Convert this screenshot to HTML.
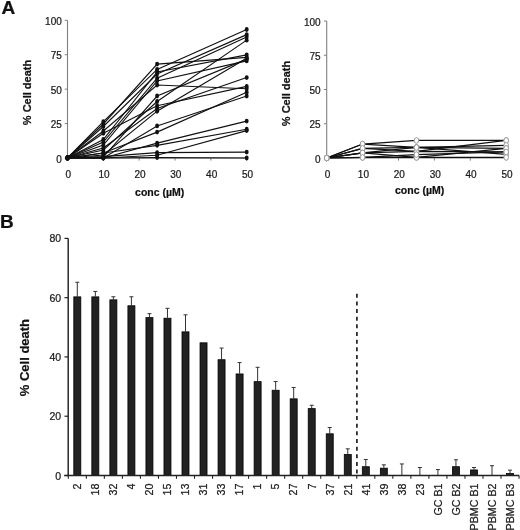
<!DOCTYPE html>
<html><head><meta charset="utf-8"><style>
html,body{margin:0;padding:0;background:#fff;}
text{stroke:#111;stroke-width:0.22px;}
svg{display:block;font-family:"Liberation Sans", sans-serif;will-change:transform;filter:blur(0.3px);}
</style></head><body>
<svg width="520" height="530" viewBox="0 0 520 530">
<rect width="520" height="530" fill="#fff"/>
<text x="1.5" y="14.1" font-size="19" font-weight="bold" fill="#111">A</text>
<line x1="67.5" y1="20.30000000000001" x2="67.5" y2="158.0" stroke="#808080" stroke-width="1.1"/>
<line x1="67.5" y1="158.0" x2="246.70000000000002" y2="158.0" stroke="#808080" stroke-width="1.1"/>
<line x1="64.7" y1="158.00" x2="67.5" y2="158.00" stroke="#808080" stroke-width="1"/>
<text x="61.8" y="162.60" text-anchor="end" font-size="10" fill="#222">0</text>
<line x1="64.7" y1="123.58" x2="67.5" y2="123.58" stroke="#808080" stroke-width="1"/>
<text x="61.8" y="128.18" text-anchor="end" font-size="10" fill="#222">25</text>
<line x1="64.7" y1="89.15" x2="67.5" y2="89.15" stroke="#808080" stroke-width="1"/>
<text x="61.8" y="93.75" text-anchor="end" font-size="10" fill="#222">50</text>
<line x1="64.7" y1="54.72" x2="67.5" y2="54.72" stroke="#808080" stroke-width="1"/>
<text x="61.8" y="59.32" text-anchor="end" font-size="10" fill="#222">75</text>
<line x1="64.7" y1="20.30" x2="67.5" y2="20.30" stroke="#808080" stroke-width="1"/>
<text x="61.8" y="24.90" text-anchor="end" font-size="10" fill="#222">100</text>
<text x="68.30" y="177.6" text-anchor="middle" font-size="10" fill="#222">0</text>
<line x1="103.34" y1="158.0" x2="103.34" y2="160.6" stroke="#808080" stroke-width="1"/>
<text x="104.14" y="177.6" text-anchor="middle" font-size="10" fill="#222">10</text>
<line x1="139.18" y1="158.0" x2="139.18" y2="160.6" stroke="#808080" stroke-width="1"/>
<text x="139.98" y="177.6" text-anchor="middle" font-size="10" fill="#222">20</text>
<line x1="175.02" y1="158.0" x2="175.02" y2="160.6" stroke="#808080" stroke-width="1"/>
<text x="175.82" y="177.6" text-anchor="middle" font-size="10" fill="#222">30</text>
<line x1="210.86" y1="158.0" x2="210.86" y2="160.6" stroke="#808080" stroke-width="1"/>
<text x="211.66" y="177.6" text-anchor="middle" font-size="10" fill="#222">40</text>
<line x1="246.70" y1="158.0" x2="246.70" y2="160.6" stroke="#808080" stroke-width="1"/>
<text x="247.50" y="177.6" text-anchor="middle" font-size="10" fill="#222">50</text>
<polyline points="67.50,158.00 103.34,123.99 157.10,64.09 246.70,57.34" fill="none" stroke="#111" stroke-width="1.12"/>
<polyline points="67.50,158.00 103.34,121.65 157.10,69.46 246.70,29.53" fill="none" stroke="#111" stroke-width="1.12"/>
<polyline points="67.50,158.00 103.34,139.55 157.10,71.94 246.70,54.86" fill="none" stroke="#111" stroke-width="1.12"/>
<polyline points="67.50,158.00 103.34,126.47 157.10,74.00 246.70,34.62" fill="none" stroke="#111" stroke-width="1.12"/>
<polyline points="67.50,158.00 103.34,142.03 157.10,78.13 246.70,37.10" fill="none" stroke="#111" stroke-width="1.12"/>
<polyline points="67.50,158.00 103.34,145.06 157.10,80.89 246.70,60.92" fill="none" stroke="#111" stroke-width="1.12"/>
<polyline points="67.50,158.00 103.34,131.01 157.10,85.02 246.70,88.74" fill="none" stroke="#111" stroke-width="1.12"/>
<polyline points="67.50,158.00 103.34,157.04 157.10,96.03 246.70,59.13" fill="none" stroke="#111" stroke-width="1.12"/>
<polyline points="67.50,158.00 103.34,150.01 157.10,101.54 246.70,40.13" fill="none" stroke="#111" stroke-width="1.12"/>
<polyline points="67.50,158.00 103.34,133.21 157.10,105.67 246.70,86.40" fill="none" stroke="#111" stroke-width="1.12"/>
<polyline points="67.50,158.00 103.34,147.95 157.10,108.43 246.70,77.58" fill="none" stroke="#111" stroke-width="1.12"/>
<polyline points="67.50,158.00 103.34,154.97 157.10,111.18 246.70,58.17" fill="none" stroke="#111" stroke-width="1.12"/>
<polyline points="67.50,158.00 103.34,158.00 157.10,125.92 246.70,96.03" fill="none" stroke="#111" stroke-width="1.12"/>
<polyline points="67.50,158.00 103.34,153.04 157.10,132.11 246.70,92.32" fill="none" stroke="#111" stroke-width="1.12"/>
<polyline points="67.50,158.00 103.34,158.00 157.10,143.13 246.70,121.10" fill="none" stroke="#111" stroke-width="1.12"/>
<polyline points="67.50,158.00 103.34,153.04 157.10,145.33 246.70,129.22" fill="none" stroke="#111" stroke-width="1.12"/>
<polyline points="67.50,158.00 103.34,158.00 157.10,155.25 246.70,130.60" fill="none" stroke="#111" stroke-width="1.12"/>
<polyline points="67.50,158.00 103.34,156.62 157.10,152.63 246.70,152.08" fill="none" stroke="#111" stroke-width="1.12"/>
<polyline points="67.50,158.00 103.34,158.00 157.10,157.59 246.70,158.00" fill="none" stroke="#111" stroke-width="1.12"/>
<ellipse cx="67.50" cy="158.00" rx="1.95" ry="2.45" fill="#111"/>
<ellipse cx="103.34" cy="123.99" rx="1.95" ry="2.45" fill="#111"/>
<ellipse cx="157.10" cy="64.09" rx="1.95" ry="2.45" fill="#111"/>
<ellipse cx="246.70" cy="57.34" rx="1.95" ry="2.45" fill="#111"/>
<ellipse cx="67.50" cy="158.00" rx="1.95" ry="2.45" fill="#111"/>
<ellipse cx="103.34" cy="121.65" rx="1.95" ry="2.45" fill="#111"/>
<ellipse cx="157.10" cy="69.46" rx="1.95" ry="2.45" fill="#111"/>
<ellipse cx="246.70" cy="29.53" rx="1.95" ry="2.45" fill="#111"/>
<ellipse cx="67.50" cy="158.00" rx="1.95" ry="2.45" fill="#111"/>
<ellipse cx="103.34" cy="139.55" rx="1.95" ry="2.45" fill="#111"/>
<ellipse cx="157.10" cy="71.94" rx="1.95" ry="2.45" fill="#111"/>
<ellipse cx="246.70" cy="54.86" rx="1.95" ry="2.45" fill="#111"/>
<ellipse cx="67.50" cy="158.00" rx="1.95" ry="2.45" fill="#111"/>
<ellipse cx="103.34" cy="126.47" rx="1.95" ry="2.45" fill="#111"/>
<ellipse cx="157.10" cy="74.00" rx="1.95" ry="2.45" fill="#111"/>
<ellipse cx="246.70" cy="34.62" rx="1.95" ry="2.45" fill="#111"/>
<ellipse cx="67.50" cy="158.00" rx="1.95" ry="2.45" fill="#111"/>
<ellipse cx="103.34" cy="142.03" rx="1.95" ry="2.45" fill="#111"/>
<ellipse cx="157.10" cy="78.13" rx="1.95" ry="2.45" fill="#111"/>
<ellipse cx="246.70" cy="37.10" rx="1.95" ry="2.45" fill="#111"/>
<ellipse cx="67.50" cy="158.00" rx="1.95" ry="2.45" fill="#111"/>
<ellipse cx="103.34" cy="145.06" rx="1.95" ry="2.45" fill="#111"/>
<ellipse cx="157.10" cy="80.89" rx="1.95" ry="2.45" fill="#111"/>
<ellipse cx="246.70" cy="60.92" rx="1.95" ry="2.45" fill="#111"/>
<ellipse cx="67.50" cy="158.00" rx="1.95" ry="2.45" fill="#111"/>
<ellipse cx="103.34" cy="131.01" rx="1.95" ry="2.45" fill="#111"/>
<ellipse cx="157.10" cy="85.02" rx="1.95" ry="2.45" fill="#111"/>
<ellipse cx="246.70" cy="88.74" rx="1.95" ry="2.45" fill="#111"/>
<ellipse cx="67.50" cy="158.00" rx="1.95" ry="2.45" fill="#111"/>
<ellipse cx="103.34" cy="157.04" rx="1.95" ry="2.45" fill="#111"/>
<ellipse cx="157.10" cy="96.03" rx="1.95" ry="2.45" fill="#111"/>
<ellipse cx="246.70" cy="59.13" rx="1.95" ry="2.45" fill="#111"/>
<ellipse cx="67.50" cy="158.00" rx="1.95" ry="2.45" fill="#111"/>
<ellipse cx="103.34" cy="150.01" rx="1.95" ry="2.45" fill="#111"/>
<ellipse cx="157.10" cy="101.54" rx="1.95" ry="2.45" fill="#111"/>
<ellipse cx="246.70" cy="40.13" rx="1.95" ry="2.45" fill="#111"/>
<ellipse cx="67.50" cy="158.00" rx="1.95" ry="2.45" fill="#111"/>
<ellipse cx="103.34" cy="133.21" rx="1.95" ry="2.45" fill="#111"/>
<ellipse cx="157.10" cy="105.67" rx="1.95" ry="2.45" fill="#111"/>
<ellipse cx="246.70" cy="86.40" rx="1.95" ry="2.45" fill="#111"/>
<ellipse cx="67.50" cy="158.00" rx="1.95" ry="2.45" fill="#111"/>
<ellipse cx="103.34" cy="147.95" rx="1.95" ry="2.45" fill="#111"/>
<ellipse cx="157.10" cy="108.43" rx="1.95" ry="2.45" fill="#111"/>
<ellipse cx="246.70" cy="77.58" rx="1.95" ry="2.45" fill="#111"/>
<ellipse cx="67.50" cy="158.00" rx="1.95" ry="2.45" fill="#111"/>
<ellipse cx="103.34" cy="154.97" rx="1.95" ry="2.45" fill="#111"/>
<ellipse cx="157.10" cy="111.18" rx="1.95" ry="2.45" fill="#111"/>
<ellipse cx="246.70" cy="58.17" rx="1.95" ry="2.45" fill="#111"/>
<ellipse cx="67.50" cy="158.00" rx="1.95" ry="2.45" fill="#111"/>
<ellipse cx="103.34" cy="158.00" rx="1.95" ry="2.45" fill="#111"/>
<ellipse cx="157.10" cy="125.92" rx="1.95" ry="2.45" fill="#111"/>
<ellipse cx="246.70" cy="96.03" rx="1.95" ry="2.45" fill="#111"/>
<ellipse cx="67.50" cy="158.00" rx="1.95" ry="2.45" fill="#111"/>
<ellipse cx="103.34" cy="153.04" rx="1.95" ry="2.45" fill="#111"/>
<ellipse cx="157.10" cy="132.11" rx="1.95" ry="2.45" fill="#111"/>
<ellipse cx="246.70" cy="92.32" rx="1.95" ry="2.45" fill="#111"/>
<ellipse cx="67.50" cy="158.00" rx="1.95" ry="2.45" fill="#111"/>
<ellipse cx="103.34" cy="158.00" rx="1.95" ry="2.45" fill="#111"/>
<ellipse cx="157.10" cy="143.13" rx="1.95" ry="2.45" fill="#111"/>
<ellipse cx="246.70" cy="121.10" rx="1.95" ry="2.45" fill="#111"/>
<ellipse cx="67.50" cy="158.00" rx="1.95" ry="2.45" fill="#111"/>
<ellipse cx="103.34" cy="153.04" rx="1.95" ry="2.45" fill="#111"/>
<ellipse cx="157.10" cy="145.33" rx="1.95" ry="2.45" fill="#111"/>
<ellipse cx="246.70" cy="129.22" rx="1.95" ry="2.45" fill="#111"/>
<ellipse cx="67.50" cy="158.00" rx="1.95" ry="2.45" fill="#111"/>
<ellipse cx="103.34" cy="158.00" rx="1.95" ry="2.45" fill="#111"/>
<ellipse cx="157.10" cy="155.25" rx="1.95" ry="2.45" fill="#111"/>
<ellipse cx="246.70" cy="130.60" rx="1.95" ry="2.45" fill="#111"/>
<ellipse cx="67.50" cy="158.00" rx="1.95" ry="2.45" fill="#111"/>
<ellipse cx="103.34" cy="156.62" rx="1.95" ry="2.45" fill="#111"/>
<ellipse cx="157.10" cy="152.63" rx="1.95" ry="2.45" fill="#111"/>
<ellipse cx="246.70" cy="152.08" rx="1.95" ry="2.45" fill="#111"/>
<ellipse cx="67.50" cy="158.00" rx="1.95" ry="2.45" fill="#111"/>
<ellipse cx="103.34" cy="158.00" rx="1.95" ry="2.45" fill="#111"/>
<ellipse cx="157.10" cy="157.59" rx="1.95" ry="2.45" fill="#111"/>
<ellipse cx="246.70" cy="158.00" rx="1.95" ry="2.45" fill="#111"/>
<text transform="translate(31,92.5) rotate(-90)" text-anchor="middle" font-size="11" font-weight="bold" fill="#111">% Cell death</text>
<text x="159.7" y="195.5" text-anchor="middle" font-size="10.5" font-weight="bold" fill="#111">conc (µM)</text>
<line x1="326.7" y1="21.0" x2="326.7" y2="158.0" stroke="#808080" stroke-width="1.1"/>
<line x1="326.7" y1="158.0" x2="506.2" y2="158.0" stroke="#808080" stroke-width="1.1"/>
<line x1="323.9" y1="158.00" x2="326.7" y2="158.00" stroke="#808080" stroke-width="1"/>
<text x="320.6" y="162.60" text-anchor="end" font-size="10" fill="#222">0</text>
<line x1="323.9" y1="123.75" x2="326.7" y2="123.75" stroke="#808080" stroke-width="1"/>
<text x="320.6" y="128.35" text-anchor="end" font-size="10" fill="#222">25</text>
<line x1="323.9" y1="89.50" x2="326.7" y2="89.50" stroke="#808080" stroke-width="1"/>
<text x="320.6" y="94.10" text-anchor="end" font-size="10" fill="#222">50</text>
<line x1="323.9" y1="55.25" x2="326.7" y2="55.25" stroke="#808080" stroke-width="1"/>
<text x="320.6" y="59.85" text-anchor="end" font-size="10" fill="#222">75</text>
<line x1="323.9" y1="21.00" x2="326.7" y2="21.00" stroke="#808080" stroke-width="1"/>
<text x="320.6" y="25.60" text-anchor="end" font-size="10" fill="#222">100</text>
<text x="327.50" y="177.6" text-anchor="middle" font-size="10" fill="#222">0</text>
<line x1="362.60" y1="158.0" x2="362.60" y2="160.6" stroke="#808080" stroke-width="1"/>
<text x="363.40" y="177.6" text-anchor="middle" font-size="10" fill="#222">10</text>
<line x1="398.50" y1="158.0" x2="398.50" y2="160.6" stroke="#808080" stroke-width="1"/>
<text x="399.30" y="177.6" text-anchor="middle" font-size="10" fill="#222">20</text>
<line x1="434.40" y1="158.0" x2="434.40" y2="160.6" stroke="#808080" stroke-width="1"/>
<text x="435.20" y="177.6" text-anchor="middle" font-size="10" fill="#222">30</text>
<line x1="470.30" y1="158.0" x2="470.30" y2="160.6" stroke="#808080" stroke-width="1"/>
<text x="471.10" y="177.6" text-anchor="middle" font-size="10" fill="#222">40</text>
<line x1="506.20" y1="158.0" x2="506.20" y2="160.6" stroke="#808080" stroke-width="1"/>
<text x="507.00" y="177.6" text-anchor="middle" font-size="10" fill="#222">50</text>
<polyline points="326.70,158.00 362.60,144.03 416.45,140.46 506.20,140.46" fill="none" stroke="#111" stroke-width="1.25"/>
<polyline points="326.70,158.00 362.60,148.41 416.45,151.42 506.20,140.46" fill="none" stroke="#111" stroke-width="1.25"/>
<polyline points="326.70,158.00 362.60,144.03 416.45,147.45 506.20,145.40" fill="none" stroke="#111" stroke-width="1.25"/>
<polyline points="326.70,158.00 362.60,148.41 416.45,147.45 506.20,148.41" fill="none" stroke="#111" stroke-width="1.25"/>
<polyline points="326.70,158.00 362.60,152.93 416.45,151.42 506.20,151.97" fill="none" stroke="#111" stroke-width="1.25"/>
<polyline points="326.70,158.00 362.60,152.93 416.45,147.45 506.20,154.44" fill="none" stroke="#111" stroke-width="1.25"/>
<polyline points="326.70,158.00 362.60,157.45 416.45,157.45 506.20,157.45" fill="none" stroke="#111" stroke-width="1.25"/>
<polyline points="326.70,158.00 362.60,152.93 416.45,157.45 506.20,148.41" fill="none" stroke="#111" stroke-width="1.25"/>
<polyline points="326.70,158.00 362.60,157.45 416.45,154.57 506.20,151.97" fill="none" stroke="#111" stroke-width="1.25"/>
<ellipse cx="326.70" cy="158.00" rx="2.3" ry="2.8" fill="#fff" stroke="#999" stroke-width="1"/>
<ellipse cx="362.60" cy="144.03" rx="2.3" ry="2.8" fill="#fff" stroke="#999" stroke-width="1"/>
<ellipse cx="416.45" cy="140.46" rx="2.3" ry="2.8" fill="#fff" stroke="#999" stroke-width="1"/>
<ellipse cx="506.20" cy="140.46" rx="2.3" ry="2.8" fill="#fff" stroke="#999" stroke-width="1"/>
<ellipse cx="326.70" cy="158.00" rx="2.3" ry="2.8" fill="#fff" stroke="#999" stroke-width="1"/>
<ellipse cx="362.60" cy="148.41" rx="2.3" ry="2.8" fill="#fff" stroke="#999" stroke-width="1"/>
<ellipse cx="416.45" cy="151.42" rx="2.3" ry="2.8" fill="#fff" stroke="#999" stroke-width="1"/>
<ellipse cx="506.20" cy="140.46" rx="2.3" ry="2.8" fill="#fff" stroke="#999" stroke-width="1"/>
<ellipse cx="326.70" cy="158.00" rx="2.3" ry="2.8" fill="#fff" stroke="#999" stroke-width="1"/>
<ellipse cx="362.60" cy="144.03" rx="2.3" ry="2.8" fill="#fff" stroke="#999" stroke-width="1"/>
<ellipse cx="416.45" cy="147.45" rx="2.3" ry="2.8" fill="#fff" stroke="#999" stroke-width="1"/>
<ellipse cx="506.20" cy="145.40" rx="2.3" ry="2.8" fill="#fff" stroke="#999" stroke-width="1"/>
<ellipse cx="326.70" cy="158.00" rx="2.3" ry="2.8" fill="#fff" stroke="#999" stroke-width="1"/>
<ellipse cx="362.60" cy="148.41" rx="2.3" ry="2.8" fill="#fff" stroke="#999" stroke-width="1"/>
<ellipse cx="416.45" cy="147.45" rx="2.3" ry="2.8" fill="#fff" stroke="#999" stroke-width="1"/>
<ellipse cx="506.20" cy="148.41" rx="2.3" ry="2.8" fill="#fff" stroke="#999" stroke-width="1"/>
<ellipse cx="326.70" cy="158.00" rx="2.3" ry="2.8" fill="#fff" stroke="#999" stroke-width="1"/>
<ellipse cx="362.60" cy="152.93" rx="2.3" ry="2.8" fill="#fff" stroke="#999" stroke-width="1"/>
<ellipse cx="416.45" cy="151.42" rx="2.3" ry="2.8" fill="#fff" stroke="#999" stroke-width="1"/>
<ellipse cx="506.20" cy="151.97" rx="2.3" ry="2.8" fill="#fff" stroke="#999" stroke-width="1"/>
<ellipse cx="326.70" cy="158.00" rx="2.3" ry="2.8" fill="#fff" stroke="#999" stroke-width="1"/>
<ellipse cx="362.60" cy="152.93" rx="2.3" ry="2.8" fill="#fff" stroke="#999" stroke-width="1"/>
<ellipse cx="416.45" cy="147.45" rx="2.3" ry="2.8" fill="#fff" stroke="#999" stroke-width="1"/>
<ellipse cx="506.20" cy="154.44" rx="2.3" ry="2.8" fill="#fff" stroke="#999" stroke-width="1"/>
<ellipse cx="326.70" cy="158.00" rx="2.3" ry="2.8" fill="#fff" stroke="#999" stroke-width="1"/>
<ellipse cx="362.60" cy="157.45" rx="2.3" ry="2.8" fill="#fff" stroke="#999" stroke-width="1"/>
<ellipse cx="416.45" cy="157.45" rx="2.3" ry="2.8" fill="#fff" stroke="#999" stroke-width="1"/>
<ellipse cx="506.20" cy="157.45" rx="2.3" ry="2.8" fill="#fff" stroke="#999" stroke-width="1"/>
<ellipse cx="326.70" cy="158.00" rx="2.3" ry="2.8" fill="#fff" stroke="#999" stroke-width="1"/>
<ellipse cx="362.60" cy="152.93" rx="2.3" ry="2.8" fill="#fff" stroke="#999" stroke-width="1"/>
<ellipse cx="416.45" cy="157.45" rx="2.3" ry="2.8" fill="#fff" stroke="#999" stroke-width="1"/>
<ellipse cx="506.20" cy="148.41" rx="2.3" ry="2.8" fill="#fff" stroke="#999" stroke-width="1"/>
<ellipse cx="326.70" cy="158.00" rx="2.3" ry="2.8" fill="#fff" stroke="#999" stroke-width="1"/>
<ellipse cx="362.60" cy="157.45" rx="2.3" ry="2.8" fill="#fff" stroke="#999" stroke-width="1"/>
<ellipse cx="416.45" cy="154.57" rx="2.3" ry="2.8" fill="#fff" stroke="#999" stroke-width="1"/>
<ellipse cx="506.20" cy="151.97" rx="2.3" ry="2.8" fill="#fff" stroke="#999" stroke-width="1"/>
<text transform="translate(289.7,93.5) rotate(-90)" text-anchor="middle" font-size="11" font-weight="bold" fill="#111">% Cell death</text>
<text x="419.6" y="194.4" text-anchor="middle" font-size="10.5" font-weight="bold" fill="#111">conc (µM)</text>
<text x="0" y="227.8" font-size="19" font-weight="bold" fill="#111">B</text>
<line x1="68.2" y1="238.38" x2="68.2" y2="475.5" stroke="#222" stroke-width="1.45"/>
<line x1="64.5" y1="475.50" x2="68.3" y2="475.50" stroke="#222" stroke-width="1.2"/>
<text x="61.2" y="479.60" text-anchor="end" font-size="10.5" fill="#222">0</text>
<line x1="64.5" y1="416.22" x2="68.3" y2="416.22" stroke="#222" stroke-width="1.2"/>
<text x="61.2" y="420.32" text-anchor="end" font-size="10.5" fill="#222">20</text>
<line x1="64.5" y1="356.94" x2="68.3" y2="356.94" stroke="#222" stroke-width="1.2"/>
<text x="61.2" y="361.04" text-anchor="end" font-size="10.5" fill="#222">40</text>
<line x1="64.5" y1="297.66" x2="68.3" y2="297.66" stroke="#222" stroke-width="1.2"/>
<text x="61.2" y="301.76" text-anchor="end" font-size="10.5" fill="#222">60</text>
<line x1="64.5" y1="238.38" x2="68.3" y2="238.38" stroke="#222" stroke-width="1.2"/>
<text x="61.2" y="242.48" text-anchor="end" font-size="10.5" fill="#222">80</text>
<line x1="77.31" y1="282.25" x2="77.31" y2="296.47" stroke="#333" stroke-width="1"/>
<line x1="75.31" y1="282.25" x2="79.31" y2="282.25" stroke="#333" stroke-width="1"/>
<rect x="73.81" y="296.87" width="7.00" height="178.63" fill="#222" stroke="#000" stroke-width="0.8"/>
<text transform="translate(81.11,483.5) rotate(-90)" text-anchor="end" font-size="10.7" fill="#222">2</text>
<line x1="95.34" y1="291.44" x2="95.34" y2="296.47" stroke="#333" stroke-width="1"/>
<line x1="93.34" y1="291.44" x2="97.34" y2="291.44" stroke="#333" stroke-width="1"/>
<rect x="91.84" y="296.87" width="7.00" height="178.63" fill="#222" stroke="#000" stroke-width="0.8"/>
<text transform="translate(99.14,483.5) rotate(-90)" text-anchor="end" font-size="10.7" fill="#222">18</text>
<line x1="113.38" y1="296.77" x2="113.38" y2="299.44" stroke="#333" stroke-width="1"/>
<line x1="111.38" y1="296.77" x2="115.38" y2="296.77" stroke="#333" stroke-width="1"/>
<rect x="109.88" y="299.84" width="7.00" height="175.66" fill="#222" stroke="#000" stroke-width="0.8"/>
<text transform="translate(117.17,483.5) rotate(-90)" text-anchor="end" font-size="10.7" fill="#222">32</text>
<line x1="131.41" y1="296.77" x2="131.41" y2="305.37" stroke="#333" stroke-width="1"/>
<line x1="129.41" y1="296.77" x2="133.41" y2="296.77" stroke="#333" stroke-width="1"/>
<rect x="127.91" y="305.77" width="7.00" height="169.73" fill="#222" stroke="#000" stroke-width="0.8"/>
<text transform="translate(135.21,483.5) rotate(-90)" text-anchor="end" font-size="10.7" fill="#222">4</text>
<line x1="149.44" y1="313.67" x2="149.44" y2="317.22" stroke="#333" stroke-width="1"/>
<line x1="147.44" y1="313.67" x2="151.44" y2="313.67" stroke="#333" stroke-width="1"/>
<rect x="145.94" y="317.62" width="7.00" height="157.88" fill="#222" stroke="#000" stroke-width="0.8"/>
<text transform="translate(153.24,483.5) rotate(-90)" text-anchor="end" font-size="10.7" fill="#222">20</text>
<line x1="167.47" y1="308.33" x2="167.47" y2="317.82" stroke="#333" stroke-width="1"/>
<line x1="165.47" y1="308.33" x2="169.47" y2="308.33" stroke="#333" stroke-width="1"/>
<rect x="163.97" y="318.22" width="7.00" height="157.28" fill="#222" stroke="#000" stroke-width="0.8"/>
<text transform="translate(171.27,483.5) rotate(-90)" text-anchor="end" font-size="10.7" fill="#222">15</text>
<line x1="185.50" y1="314.85" x2="185.50" y2="331.45" stroke="#333" stroke-width="1"/>
<line x1="183.50" y1="314.85" x2="187.50" y2="314.85" stroke="#333" stroke-width="1"/>
<rect x="182.00" y="331.85" width="7.00" height="143.65" fill="#222" stroke="#000" stroke-width="0.8"/>
<text transform="translate(189.30,483.5) rotate(-90)" text-anchor="end" font-size="10.7" fill="#222">13</text>
<rect x="200.03" y="342.82" width="7.00" height="132.68" fill="#222" stroke="#000" stroke-width="0.8"/>
<text transform="translate(207.33,483.5) rotate(-90)" text-anchor="end" font-size="10.7" fill="#222">31</text>
<line x1="221.56" y1="348.05" x2="221.56" y2="359.31" stroke="#333" stroke-width="1"/>
<line x1="219.56" y1="348.05" x2="223.56" y2="348.05" stroke="#333" stroke-width="1"/>
<rect x="218.06" y="359.71" width="7.00" height="115.79" fill="#222" stroke="#000" stroke-width="0.8"/>
<text transform="translate(225.36,483.5) rotate(-90)" text-anchor="end" font-size="10.7" fill="#222">33</text>
<line x1="239.59" y1="362.57" x2="239.59" y2="373.54" stroke="#333" stroke-width="1"/>
<line x1="237.59" y1="362.57" x2="241.59" y2="362.57" stroke="#333" stroke-width="1"/>
<rect x="236.09" y="373.94" width="7.00" height="101.56" fill="#222" stroke="#000" stroke-width="0.8"/>
<text transform="translate(243.39,483.5) rotate(-90)" text-anchor="end" font-size="10.7" fill="#222">17</text>
<line x1="257.62" y1="367.31" x2="257.62" y2="381.24" stroke="#333" stroke-width="1"/>
<line x1="255.62" y1="367.31" x2="259.62" y2="367.31" stroke="#333" stroke-width="1"/>
<rect x="254.12" y="381.64" width="7.00" height="93.86" fill="#222" stroke="#000" stroke-width="0.8"/>
<text transform="translate(261.42,483.5) rotate(-90)" text-anchor="end" font-size="10.7" fill="#222">1</text>
<line x1="275.65" y1="381.54" x2="275.65" y2="389.84" stroke="#333" stroke-width="1"/>
<line x1="273.65" y1="381.54" x2="277.65" y2="381.54" stroke="#333" stroke-width="1"/>
<rect x="272.15" y="390.24" width="7.00" height="85.26" fill="#222" stroke="#000" stroke-width="0.8"/>
<text transform="translate(279.45,483.5) rotate(-90)" text-anchor="end" font-size="10.7" fill="#222">5</text>
<line x1="293.68" y1="387.47" x2="293.68" y2="398.44" stroke="#333" stroke-width="1"/>
<line x1="291.68" y1="387.47" x2="295.68" y2="387.47" stroke="#333" stroke-width="1"/>
<rect x="290.18" y="398.84" width="7.00" height="76.66" fill="#222" stroke="#000" stroke-width="0.8"/>
<text transform="translate(297.48,483.5) rotate(-90)" text-anchor="end" font-size="10.7" fill="#222">27</text>
<line x1="311.71" y1="405.25" x2="311.71" y2="408.22" stroke="#333" stroke-width="1"/>
<line x1="309.71" y1="405.25" x2="313.71" y2="405.25" stroke="#333" stroke-width="1"/>
<rect x="308.21" y="408.62" width="7.00" height="66.88" fill="#222" stroke="#000" stroke-width="0.8"/>
<text transform="translate(315.51,483.5) rotate(-90)" text-anchor="end" font-size="10.7" fill="#222">7</text>
<line x1="329.74" y1="427.48" x2="329.74" y2="433.41" stroke="#333" stroke-width="1"/>
<line x1="327.74" y1="427.48" x2="331.74" y2="427.48" stroke="#333" stroke-width="1"/>
<rect x="326.24" y="433.81" width="7.00" height="41.69" fill="#222" stroke="#000" stroke-width="0.8"/>
<text transform="translate(333.54,483.5) rotate(-90)" text-anchor="end" font-size="10.7" fill="#222">37</text>
<line x1="347.77" y1="448.82" x2="347.77" y2="454.16" stroke="#333" stroke-width="1"/>
<line x1="345.77" y1="448.82" x2="349.77" y2="448.82" stroke="#333" stroke-width="1"/>
<rect x="344.27" y="454.56" width="7.00" height="20.94" fill="#222" stroke="#000" stroke-width="0.8"/>
<text transform="translate(351.57,483.5) rotate(-90)" text-anchor="end" font-size="10.7" fill="#222">21</text>
<line x1="365.80" y1="459.49" x2="365.80" y2="466.31" stroke="#333" stroke-width="1"/>
<line x1="363.80" y1="459.49" x2="367.80" y2="459.49" stroke="#333" stroke-width="1"/>
<rect x="362.30" y="466.71" width="7.00" height="8.79" fill="#222" stroke="#000" stroke-width="0.8"/>
<text transform="translate(369.60,483.5) rotate(-90)" text-anchor="end" font-size="10.7" fill="#222">41</text>
<line x1="383.83" y1="464.83" x2="383.83" y2="467.79" stroke="#333" stroke-width="1"/>
<line x1="381.83" y1="464.83" x2="385.83" y2="464.83" stroke="#333" stroke-width="1"/>
<rect x="380.33" y="468.19" width="7.00" height="7.31" fill="#222" stroke="#000" stroke-width="0.8"/>
<text transform="translate(387.63,483.5) rotate(-90)" text-anchor="end" font-size="10.7" fill="#222">39</text>
<line x1="401.86" y1="463.94" x2="401.86" y2="475.50" stroke="#333" stroke-width="1"/>
<line x1="399.86" y1="463.94" x2="403.86" y2="463.94" stroke="#333" stroke-width="1"/>
<text transform="translate(405.66,483.5) rotate(-90)" text-anchor="end" font-size="10.7" fill="#222">38</text>
<line x1="419.89" y1="467.50" x2="419.89" y2="475.50" stroke="#333" stroke-width="1"/>
<line x1="417.89" y1="467.50" x2="421.89" y2="467.50" stroke="#333" stroke-width="1"/>
<text transform="translate(423.69,483.5) rotate(-90)" text-anchor="end" font-size="10.7" fill="#222">23</text>
<line x1="437.92" y1="469.57" x2="437.92" y2="475.50" stroke="#333" stroke-width="1"/>
<line x1="435.92" y1="469.57" x2="439.92" y2="469.57" stroke="#333" stroke-width="1"/>
<text transform="translate(441.72,483.5) rotate(-90)" text-anchor="end" font-size="10.7" fill="#222">GC B1</text>
<line x1="455.95" y1="459.79" x2="455.95" y2="466.31" stroke="#333" stroke-width="1"/>
<line x1="453.95" y1="459.79" x2="457.95" y2="459.79" stroke="#333" stroke-width="1"/>
<rect x="452.45" y="466.71" width="7.00" height="8.79" fill="#222" stroke="#000" stroke-width="0.8"/>
<text transform="translate(459.75,483.5) rotate(-90)" text-anchor="end" font-size="10.7" fill="#222">GC B2</text>
<line x1="473.98" y1="467.50" x2="473.98" y2="469.57" stroke="#333" stroke-width="1"/>
<line x1="471.98" y1="467.50" x2="475.98" y2="467.50" stroke="#333" stroke-width="1"/>
<rect x="470.48" y="469.97" width="7.00" height="5.53" fill="#222" stroke="#000" stroke-width="0.8"/>
<text transform="translate(477.78,483.5) rotate(-90)" text-anchor="end" font-size="10.7" fill="#222">PBMC B1</text>
<line x1="492.01" y1="465.72" x2="492.01" y2="475.50" stroke="#333" stroke-width="1"/>
<line x1="490.01" y1="465.72" x2="494.01" y2="465.72" stroke="#333" stroke-width="1"/>
<text transform="translate(495.81,483.5) rotate(-90)" text-anchor="end" font-size="10.7" fill="#222">PBMC B2</text>
<line x1="510.04" y1="470.16" x2="510.04" y2="473.13" stroke="#333" stroke-width="1"/>
<line x1="508.04" y1="470.16" x2="512.04" y2="470.16" stroke="#333" stroke-width="1"/>
<rect x="506.54" y="473.53" width="7.00" height="1.97" fill="#222" stroke="#000" stroke-width="0.8"/>
<text transform="translate(513.84,483.5) rotate(-90)" text-anchor="end" font-size="10.7" fill="#222">PBMC B3</text>
<line x1="64.3" y1="475.5" x2="519.2" y2="475.5" stroke="#222" stroke-width="1.4"/>
<line x1="68.30" y1="475.5" x2="68.30" y2="478.8" stroke="#222" stroke-width="1.1"/>
<line x1="86.33" y1="475.5" x2="86.33" y2="478.8" stroke="#222" stroke-width="1.1"/>
<line x1="104.36" y1="475.5" x2="104.36" y2="478.8" stroke="#222" stroke-width="1.1"/>
<line x1="122.39" y1="475.5" x2="122.39" y2="478.8" stroke="#222" stroke-width="1.1"/>
<line x1="140.42" y1="475.5" x2="140.42" y2="478.8" stroke="#222" stroke-width="1.1"/>
<line x1="158.45" y1="475.5" x2="158.45" y2="478.8" stroke="#222" stroke-width="1.1"/>
<line x1="176.48" y1="475.5" x2="176.48" y2="478.8" stroke="#222" stroke-width="1.1"/>
<line x1="194.51" y1="475.5" x2="194.51" y2="478.8" stroke="#222" stroke-width="1.1"/>
<line x1="212.54" y1="475.5" x2="212.54" y2="478.8" stroke="#222" stroke-width="1.1"/>
<line x1="230.57" y1="475.5" x2="230.57" y2="478.8" stroke="#222" stroke-width="1.1"/>
<line x1="248.60" y1="475.5" x2="248.60" y2="478.8" stroke="#222" stroke-width="1.1"/>
<line x1="266.63" y1="475.5" x2="266.63" y2="478.8" stroke="#222" stroke-width="1.1"/>
<line x1="284.66" y1="475.5" x2="284.66" y2="478.8" stroke="#222" stroke-width="1.1"/>
<line x1="302.69" y1="475.5" x2="302.69" y2="478.8" stroke="#222" stroke-width="1.1"/>
<line x1="320.72" y1="475.5" x2="320.72" y2="478.8" stroke="#222" stroke-width="1.1"/>
<line x1="338.75" y1="475.5" x2="338.75" y2="478.8" stroke="#222" stroke-width="1.1"/>
<line x1="356.78" y1="475.5" x2="356.78" y2="478.8" stroke="#222" stroke-width="1.1"/>
<line x1="374.81" y1="475.5" x2="374.81" y2="478.8" stroke="#222" stroke-width="1.1"/>
<line x1="392.84" y1="475.5" x2="392.84" y2="478.8" stroke="#222" stroke-width="1.1"/>
<line x1="410.87" y1="475.5" x2="410.87" y2="478.8" stroke="#222" stroke-width="1.1"/>
<line x1="428.90" y1="475.5" x2="428.90" y2="478.8" stroke="#222" stroke-width="1.1"/>
<line x1="446.93" y1="475.5" x2="446.93" y2="478.8" stroke="#222" stroke-width="1.1"/>
<line x1="464.96" y1="475.5" x2="464.96" y2="478.8" stroke="#222" stroke-width="1.1"/>
<line x1="482.99" y1="475.5" x2="482.99" y2="478.8" stroke="#222" stroke-width="1.1"/>
<line x1="501.02" y1="475.5" x2="501.02" y2="478.8" stroke="#222" stroke-width="1.1"/>
<line x1="519.05" y1="475.5" x2="519.05" y2="478.8" stroke="#222" stroke-width="1.1"/>
<line x1="356.9" y1="293.8" x2="356.9" y2="475.5" stroke="#222" stroke-width="1.7" stroke-dasharray="4.0 3.643"/>
<text transform="translate(29.2,357.6) rotate(-90)" text-anchor="middle" font-size="13" font-weight="bold" fill="#111">% Cell death</text>
</svg>
</body></html>
